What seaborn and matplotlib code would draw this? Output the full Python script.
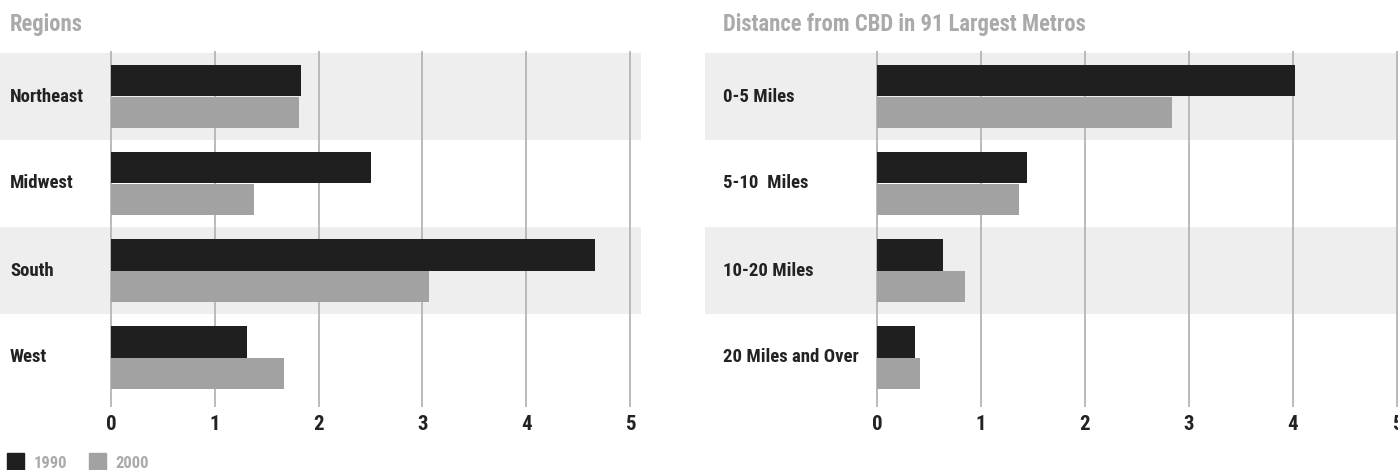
import pandas as pd
import matplotlib.pyplot as plt
import seaborn as sns
from matplotlib import font_manager

regions = ["Northeast", "Midwest", "South", "West"]
regions_1990 = [1.83, 2.50, 4.66, 1.31]
regions_2000 = [1.81, 1.38, 3.06, 1.67]

distances = ["0-5 Miles", "5-10  Miles", "10-20 Miles", "20 Miles and Over"]
distances_1990 = [4.02, 1.44, 0.63, 0.37]
distances_2000 = [2.84, 1.37, 0.85, 0.41]

years = ["1990", "2000"]
ticks = [0, 1, 2, 3, 4, 5]

sns.set_style("white")

# pick a condensed face if one is around
installed = {(f.name, f.stretch) for f in font_manager.fontManager.ttflist}
names = {n for n, _ in installed}
family, stretch = "Liberation Sans", "normal"
for cand in ["Liberation Sans Narrow", "Roboto Condensed", "Open Sans Condensed",
             "Arial Narrow", "Nimbus Sans Narrow", "DejaVu Sans Condensed"]:
    if cand in names:
        family = cand
        break
else:
    for n, s in installed:
        if n == "DejaVu Sans" and s in ("condensed", "semi-condensed", 75, 87):
            family, stretch = "DejaVu Sans", "condensed"
            break
plt.rcParams["font.family"] = [family, "DejaVu Sans"]
plt.rcParams["font.stretch"] = stretch
plt.rcParams["font.weight"] = "bold"

dark = "#1f1f1f"
grey = "#a2a2a2"
band = "#eeeeee"
gridc = "#b5b5b5"


def long_df(cats, v1, v2):
    return pd.DataFrame({
        "cat": cats * 2,
        "value": v1 + v2,
        "year": [years[0]] * len(cats) + [years[1]] * len(cats),
    })


fig = plt.figure(figsize=(13.98, 4.70), dpi=100)
W, H = 1398, 470
top, bottom = 51, 407

# left panel spans 0..641 px, zero at 111 px
ax1 = fig.add_axes([0, 1 - bottom / H, 641 / W, (bottom - top) / H])
# right panel spans 705..1398 px, zero at 877 px
ax2 = fig.add_axes([705 / W, 1 - bottom / H, 693 / W, (bottom - top) / H])

panels = [
    (ax1, long_df(regions, regions_1990, regions_2000), (-1.07, 5.106), 10 / 641, "Regions", 10),
    (ax2, long_df(distances, distances_1990, distances_2000), (-1.654, 5.01), 18 / 693,
     "Distance from CBD in 91 Largest Metros", 723),
]

for ax, df, xlim, label_x, title, title_px in panels:
    n = df["cat"].nunique()
    for i in range(0, n, 2):
        ax.axhspan(i - 0.5, i + 0.5, color=band, zorder=0, lw=0)
    sns.barplot(data=df, y="cat", x="value", hue="year", orient="h",
                palette=[dark, grey], saturation=1, width=0.724,
                linewidth=0, ax=ax, zorder=2)
    ax.set_xlim(*xlim)
    ax.set_ylim(n - 0.5 + 6 / 87, -0.5 - 2 / 87)
    ax.set_xticks(ticks)
    ax.set_xticklabels([str(t) for t in ticks], fontsize=15, fontweight="bold", color="#222222")
    ax.tick_params(axis="x", length=0, pad=6)
    ax.set_yticks([])
    ax.grid(axis="x", color=gridc, lw=1.3, zorder=1)
    ax.set_axisbelow(True)
    for s in ax.spines.values():
        s.set_visible(False)
    ax.set_xlabel("")
    ax.set_ylabel("")
    ax.get_legend().remove()
    for i, c in enumerate(df["cat"].unique()):
        ax.text(label_x, i, c, transform=ax.get_yaxis_transform(), va="center", ha="left",
                fontsize=13.5, fontweight="bold", color="#222222")
    fig.text(title_px / W, 1 - 31 / H, title, va="baseline", ha="left",
             fontsize=16.3, fontweight="bold", color="#aaaaaa")

handles = [plt.Rectangle((0, 0), 1, 1, color=c) for c in [dark, grey]]
leg = fig.legend(handles, years, loc="lower left", bbox_to_anchor=(7 / W, -1 / H), ncol=2,
                 frameon=False, borderpad=0, borderaxespad=0,
                 handlelength=1.0, handleheight=1.25, handletextpad=0.6,
                 columnspacing=1.3, fontsize=12)
for t in leg.get_texts():
    t.set_color("#aaaaaa")
    t.set_fontweight("bold")

fig.savefig("out.png", dpi=100)
